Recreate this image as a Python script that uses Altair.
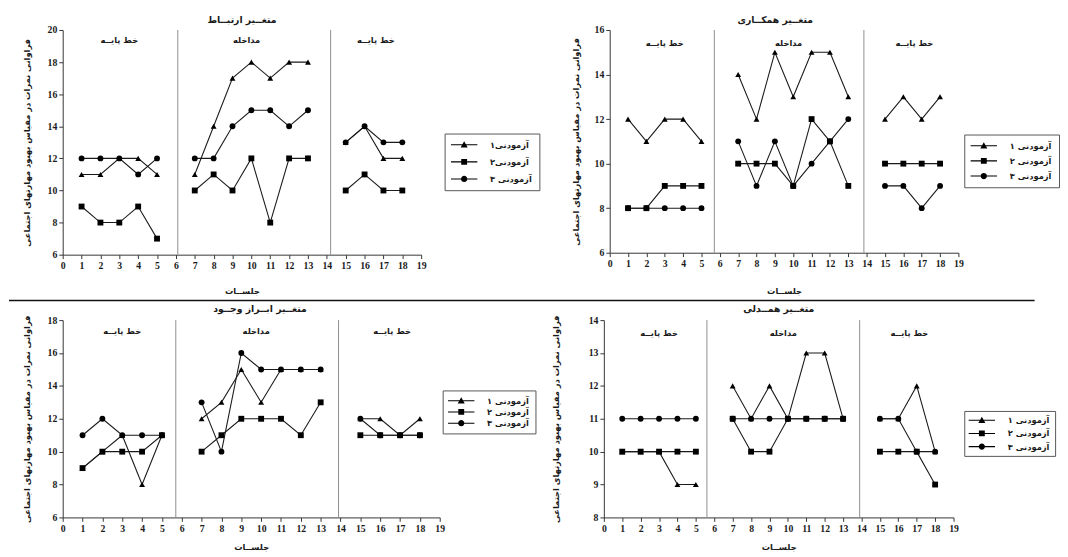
import math
import altair as alt
import pandas as pd

# ---------------- data ----------------
sessions = [1, 2, 3, 4, 5, 7, 8, 9, 10, 11, 12, 13, 15, 16, 17, 18]
x_ticks = list(range(0, 20))
phase_names = ["خط پایــه", "مداخله", "خط پایــه"]
phase_centers = [3.0, 9.75, 16.6]
y_title = "فراوانی نمرات در مقیاس بهبود مهارتهای اجتماعی"
x_title = "جلســات"

p1_title = "متغــیر ارتبــاط"
p1_labels = ["آزمودنی۱", "آزمودنی۲", "آزمودنی ۳"]
p1_s1 = [11, 11, 12, 12, 11, 11, 14, 17, 18, 17, 18, 18, 13, 14, 12, 12]
p1_s2 = [9, 8, 8, 9, 7, 10, 11, 10, 12, 8, 12, 12, 10, 11, 10, 10]
p1_s3 = [12, 12, 12, 11, 12, 12, 12, 14, 15, 15, 14, 15, 13, 14, 13, 13]
p1_y_ticks = [6, 8, 10, 12, 14, 16, 18, 20]
p1_phase_lines = [6.1, 14.2]

p2_title = "متغــیر همکــاری"
p2_labels = ["آزمودنی ۱", "آزمودنی ۲", "آزمودنی ۳"]
p2_s1 = [12, 11, 12, 12, 11, 14, 12, 15, 13, 15, 15, 13, 12, 13, 12, 13]
p2_s2 = [8, 8, 9, 9, 9, 10, 10, 10, 9, 12, 11, 9, 10, 10, 10, 10]
p2_s3 = [8, 8, 8, 8, 8, 11, 9, 11, 9, 10, 11, 12, 9, 9, 8, 9]
p2_y_ticks = [6, 8, 10, 12, 14, 16]
p2_phase_lines = [5.7, 13.85]

p3_title = "متغــیر ابــراز وجــود"
p3_labels = ["آزمودنی ۱", "آزمودنی ۲", "آزمودنی ۳"]
p3_s1 = [9, 10, 11, 8, 11, 12, 13, 15, 13, 15, 15, 15, 12, 12, 11, 12]
p3_s2 = [9, 10, 10, 10, 11, 10, 11, 12, 12, 12, 11, 13, 11, 11, 11, 11]
p3_s3 = [11, 12, 11, 11, 11, 13, 10, 16, 15, 15, 15, 15, 12, 11, 11, 11]
p3_y_ticks = [6, 8, 10, 12, 14, 16, 18]
p3_phase_lines = [5.7, 13.9]

p4_title = "متغــیر همــدلی"
p4_labels = ["آزمودنی ۱", "آزمودنی ۲", "آزمودنی ۳"]
p4_s1 = [10, 10, 10, 9, 9, 12, 11, 12, 11, 13, 13, 11, 11, 11, 12, 10]
p4_s2 = [10, 10, 10, 10, 10, 11, 10, 10, 11, 11, 11, 11, 10, 10, 10, 9]
p4_s3 = [11, 11, 11, 11, 11, 11, 11, 11, 11, 11, 11, 11, 11, 11, 10, 10]
p4_y_ticks = [8, 9, 10, 11, 12, 13, 14]
p4_phase_lines = [5.6, 13.9]

FA = "DejaVu Sans"
NUM = "Liberation Serif"
INK = "#1a1a1a"


def phase_of(s):
    return 0 if s < 6 else (1 if s < 14 else 2)


def legend_paths(line_px, r_px=4.5):
    """legend symbols: a thin bar (the line) with the marker in its middle, all filled"""
    L = (line_px / 2) / r_px
    h = 0.55 / r_px
    t = 3.6 / r_px
    q = 3.0 / r_px
    c = 3.2 / r_px
    bar = f"M{-L:.3f},{-h:.3f}L{L:.3f},{-h:.3f}L{L:.3f},{h:.3f}L{-L:.3f},{h:.3f}Z"
    tri = f"{bar}M0,{-t:.3f}L{t:.3f},{t*0.8:.3f}L{-t:.3f},{t*0.8:.3f}Z"
    sq = f"{bar}M{-q:.3f},{-q:.3f}L{q:.3f},{-q:.3f}L{q:.3f},{q:.3f}L{-q:.3f},{q:.3f}Z"
    pts = [(c * math.cos(2 * math.pi * i / 16), c * math.sin(2 * math.pi * i / 16)) for i in range(16)]
    circ = bar + "M" + "L".join(f"{a:.3f},{b:.3f}" for a, b in pts) + "Z"
    return [tri, sq, circ]


def panel(title, labels, series, y_ticks, phase_lines, st):
    rows = []
    for k, (lab, vals) in enumerate(zip(labels, series)):
        for s, v in zip(sessions, vals):
            rows.append({"session": s, "value": v, "series": lab, "seg": f"{k}-{phase_of(s)}"})
    df = pd.DataFrame(rows)

    x_enc = alt.X(
        "session:Q",
        scale=alt.Scale(domain=[0, 19], nice=False),
        axis=alt.Axis(values=x_ticks, title=x_title, titlePadding=st["xtp"],
                      labelFlush=False, labelOverlap=False),
    )
    y_enc = alt.Y(
        "value:Q",
        scale=alt.Scale(domain=[y_ticks[0], y_ticks[-1]], nice=False, zero=False),
        axis=alt.Axis(values=y_ticks, title=y_title, titlePadding=st["ytp"]),
    )

    base = alt.Chart(df)
    rules = alt.Chart(pd.DataFrame({"session": phase_lines})).mark_rule(
        color="#8c8c8c", strokeWidth=1
    ).encode(x=x_enc)
    lines = base.mark_line(color=INK, strokeWidth=1.1).encode(x=x_enc, y=y_enc, detail="seg:N")
    points = base.mark_point(filled=True, size=36, opacity=1, color="black").encode(
        x=x_enc, y=y_enc,
        shape=alt.Shape("series:N",
                        scale=alt.Scale(domain=labels, range=["triangle-up", "square", "circle"]),
                        legend=None),
    )
    half = st["sym"] / 2
    leg = base.mark_point(filled=True, opacity=0, color="black").encode(
        x=x_enc, y=y_enc,
        shape=alt.Shape(
            "series:N",
            scale=alt.Scale(domain=labels, range=legend_paths(st["sym"])),
            legend=alt.Legend(
                title=None, orient="none", legendX=st["lx"], legendY=st["ly"],
                direction="vertical", padding=st["lp"], rowPadding=st["rp"],
                strokeColor="#555", fillColor="white",
                symbolSize=81, symbolStrokeWidth=0, symbolFillColor="black", symbolOpacity=1,
                symbolOffset=half - 5, labelOffset=st["sym"] - 10 + 5,
                labelFont=FA, labelFontSize=8.5, labelFontWeight="bold", labelColor=INK,
            ),
        ),
    )
    ptext = alt.Chart(pd.DataFrame({"session": phase_centers, "label": phase_names})).mark_text(
        font=FA, fontSize=8.5, fontWeight="bold", color=INK, baseline="middle"
    ).encode(x=x_enc, y=alt.value(st["phy"]), text="label:N")

    layers = [rules, lines, points, leg, ptext]
    for (xa, xb, yy) in st.get("seps", []):
        layers.append(
            alt.Chart(pd.DataFrame({"k": [0]})).mark_rule(color="#111", strokeWidth=1.6).encode(
                x=alt.value(xa), x2=alt.value(xb), y=alt.value(yy)
            )
        )

    return alt.layer(*layers).resolve_scale(shape="independent").properties(
        width=st["w"], height=st["h"],
        title=alt.TitleParams(title, offset=st["to"], dx=st.get("tdx", 0), frame="group"),
    )


p1 = panel(p1_title, p1_labels, [p1_s1, p1_s2, p1_s3], p1_y_ticks, p1_phase_lines,
           dict(w=367, h=230, xtp=17, ytp=16, to=1, lx=391, ly=106, lp=7, rp=8.5, sym=27, phy=10,
                seps=[(-55, 995, 277)]))
p2 = panel(p2_title, p2_labels, [p2_s1, p2_s2, p2_s3], p2_y_ticks, p2_phase_lines,
           dict(w=357, h=228, xtp=19, ytp=14, to=1, lx=363, ly=107, lp=7, rp=6.5, sym=27, phy=13,
                tdx=-9))
p3 = panel(p3_title, p3_labels, [p3_s1, p3_s2, p3_s3], p3_y_ticks, p3_phase_lines,
           dict(w=386, h=202, xtp=10, ytp=16, to=1, lx=389, ly=72, lp=6, rp=2.5, sym=27, phy=11,
                tdx=9))
p4 = panel(p4_title, p4_labels, [p4_s1, p4_s2, p4_s3], p4_y_ticks, p4_phase_lines,
           dict(w=358, h=202, xtp=10, ytp=28, to=1, lx=369, ly=93, lp=5, rp=4.5, sym=27, phy=13))

row1 = (alt.hconcat(p1, p2, spacing=193, bounds="flush")
        .resolve_scale(shape="independent").resolve_legend(shape="independent"))
row2 = (alt.hconcat(p3, p4, spacing=168, bounds="flush")
        .resolve_scale(shape="independent").resolve_legend(shape="independent"))

chart = (
    alt.vconcat(row1, row2, spacing=3)
    .resolve_scale(shape="independent")
    .resolve_legend(shape="independent")
    .properties(padding={"left": 0, "top": 0, "right": 0, "bottom": 0}, background="white")
    .configure_axis(
        grid=False, domainColor="#333", tickColor="#333", tickSize=4, labelPadding=2,
        labelFont=NUM, labelFontSize=10, labelFontWeight="bold", labelColor=INK,
        titleFont=FA, titleFontSize=8.5, titleFontWeight="bold", titleColor=INK,
    )
    .configure_title(font=FA, fontSize=9.5, fontWeight="bold", color=INK, anchor="middle")
    .configure_view(stroke=None)
)

chart.save("out.html", embed_options={"renderer": "svg", "actions": False})
